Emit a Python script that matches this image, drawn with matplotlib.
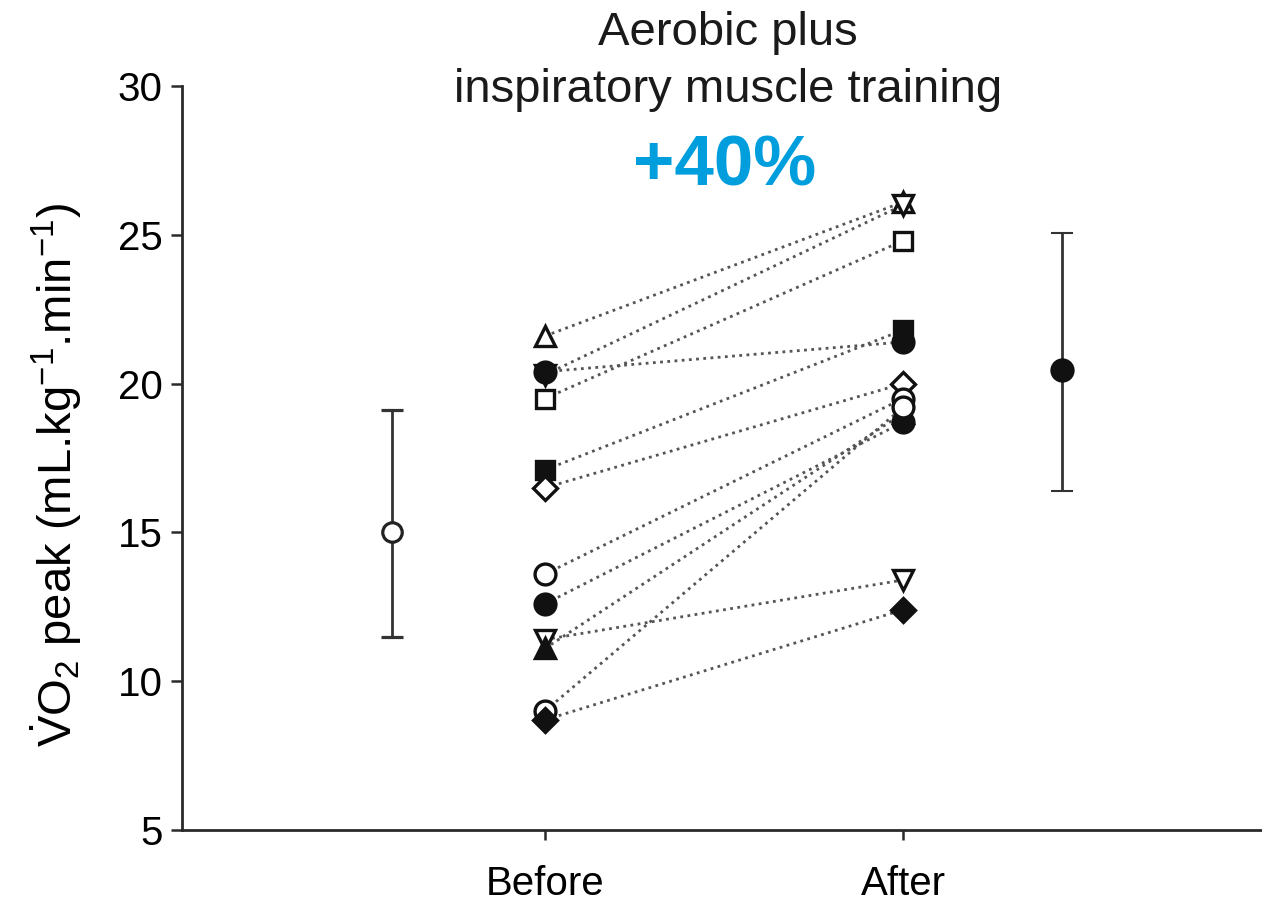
import matplotlib
matplotlib.use("Agg")
import matplotlib.pyplot as plt

plt.rcParams['font.family'] = ['Liberation Sans', 'DejaVu Sans']
plt.rcParams['mathtext.fontset'] = 'custom'
plt.rcParams['mathtext.rm'] = 'Liberation Sans'
plt.rcParams['mathtext.it'] = 'Liberation Sans:italic'

# per-subject VO2 peak before / after training, with the marker used for each
before = [21.6, 20.3, 20.4, 19.5, 17.1, 16.5, 13.6, 12.6, 11.4, 11.1, 9.0, 8.7]
after = [26.1, 26.0, 21.4, 24.8, 21.8, 20.0, 19.5, 18.7, 13.4, 19.0, 19.2, 12.4]
markers = ['^', 'v', 'o', 's', 's', 'D', 'o', 'o', 'v', '^', 'o', 'D']
filled = [False, False, True, False, True, False, False, True, False, True, False, True]

# group mean with asymmetric error bars
mean_before, err_before = 15.0, (3.5, 4.1)
mean_after, err_after = 20.45, (4.05, 4.6)

x_before, x_after = 1.0, 2.0
x_mean_before, x_mean_after = 0.573, 2.444
tick_labels = ['Before', 'After']

fig = plt.figure(figsize=(12.62, 9.01), dpi=100)
ax = fig.add_axes([0.1442, 0.0788, 0.8558, 0.8257])

# paired lines first, markers on top
for b, a in zip(before, after):
    ax.plot([x_before, x_after], [b, a], linestyle=(0, (1, 1.6)), color='#555555',
            lw=2.0, zorder=1)

for b, a, m, f in zip(before, after, markers, filled):
    size = 15 if m in ('o', 's') else 14
    if m == 'D':
        size = 12
    if m == 's':
        size = 13.5
    face = '#111111' if f else 'white'
    ax.plot([x_before, x_after], [b, a], linestyle='none', marker=m, ms=size,
            mfc=face, mec='#111111', mew=2.4, zorder=3)

ax.errorbar([x_mean_before], [mean_before], yerr=[[err_before[0]], [err_before[1]]],
            fmt='o', ms=14, mfc='white', mec='#222222', mew=2.3, ecolor='#333333',
            elinewidth=2.0, capsize=8, capthick=2.0, zorder=3)
ax.errorbar([x_mean_after], [mean_after], yerr=[[err_after[0]], [err_after[1]]],
            fmt='o', ms=16, mfc='#111111', mec='#111111', mew=1.5, ecolor='#333333',
            elinewidth=2.0, capsize=8, capthick=2.0, zorder=3)

ax.set_xlim(-0.014, 3.003)
ax.set_ylim(5, 30)
ax.set_yticks([5, 10, 15, 20, 25, 30])
ax.set_xticks([x_before, x_after])
ax.set_xticklabels(tick_labels)

for side in ('top', 'right'):
    ax.spines[side].set_visible(False)
for side in ('left', 'bottom'):
    ax.spines[side].set_linewidth(2.0)
    ax.spines[side].set_color('#2a2a2a')

ax.tick_params(axis='y', length=8, width=1.8, labelsize=29, pad=6, color='#2a2a2a')
ax.tick_params(axis='x', length=7, width=1.8, labelsize=29, pad=18, color='#2a2a2a')

ax.set_ylabel(r'$\dot{\mathrm{V}}\mathrm{O}_2$ peak (mL.kg$^{-1}$.min$^{-1}$)',
              fontsize=34)
ax.yaxis.set_label_coords(-0.091, 0.477)

fig.text(0.577, 0.963, 'Aerobic plus', ha='center', va='center', fontsize=34, color='#1a1a1a')
fig.text(0.577, 0.900, 'inspiratory muscle training', ha='center', va='center',
         fontsize=34, color='#1a1a1a')
fig.text(0.5745, 0.814, '+40%', ha='center', va='center', fontsize=51,
         fontweight='bold', color='#009EDD')

fig.savefig('out.png', dpi=100, facecolor='white')
